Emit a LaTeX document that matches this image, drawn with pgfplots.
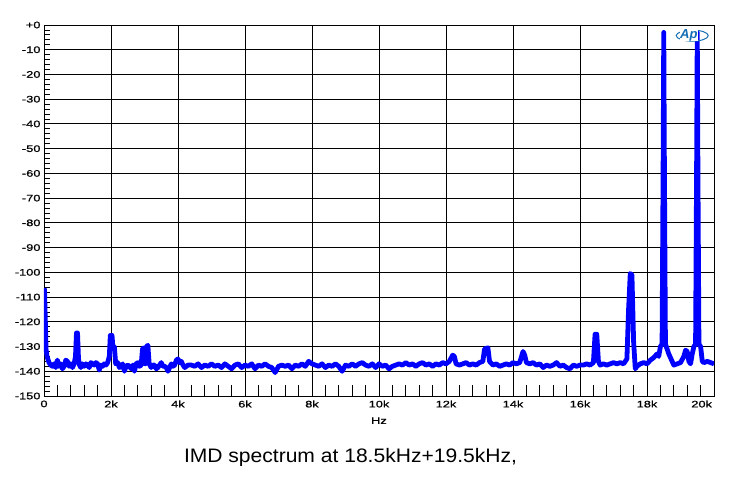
\documentclass[border=0pt]{standalone}
\usepackage{pgfplots}
\pgfplotsset{compat=1.18}
\usepackage{fontspec}
\setmainfont{Liberation Sans}
\newfontfamily\tickfont[FakeStretch=1.35,FakeBold=0.8]{Liberation Sans}
\newfontfamily\titlefont[FakeStretch=1.08]{Liberation Sans}
\definecolor{apblue}{RGB}{0,0,255}
\definecolor{logoblue}{RGB}{20,110,180}

\pgfplotstableread{
f db
0 -106.5
15 -107
40 -120
60 -131
90 -134
150 -136.5
200 -137.5
250 -138
300 -137
350 -138.5
400 -135.5
450 -138
500 -137
550 -139
600 -138
650 -135.5
700 -136
750 -138
800 -137
850 -138.5
900 -137
940 -134
970 -124.5
1000 -124.5
1030 -135
1060 -137.5
1100 -138.5
1150 -137
1200 -138
1250 -137
1300 -137.5
1350 -138.5
1400 -136.5
1450 -137
1500 -137.5
1550 -136.5
1600 -137
1650 -139.5
1700 -137.5
1750 -138
1800 -137
1850 -137.5
1900 -136.5
1950 -134
1980 -125.5
2030 -125.5
2060 -131
2100 -130
2140 -137
2200 -136.5
2250 -138.5
2300 -138
2350 -137
2400 -140
2450 -138
2500 -137.5
2550 -138
2600 -139
2650 -137.5
2700 -140
2750 -137
2800 -136.5
2850 -138
2900 -137.5
2940 -131
2980 -130.5
3020 -137
3060 -130
3100 -129.5
3140 -137
3200 -138.5
3250 -137.5
3300 -137.5
3350 -139
3400 -138.5
3450 -137.5
3500 -136.5
3550 -138
3600 -138
3650 -138.5
3700 -140
3750 -138.5
3800 -137
3850 -138
3900 -137.5
3950 -135.5
4000 -135
4050 -136.5
4100 -136
4150 -137.5
4200 -138.5
4300 -137.5
4400 -137.5
4500 -138
4600 -137
4700 -138.5
4800 -137.5
4900 -138
5000 -137
5100 -138
5200 -137.5
5300 -138.5
5400 -137
5500 -138
5600 -139
5700 -137.5
5800 -137
5900 -138.5
6000 -137.5
6100 -138
6200 -137
6300 -139
6400 -137.5
6500 -138
6600 -137
6700 -138
6800 -138.5
6900 -140.5
7000 -138
7100 -137.5
7200 -138
7300 -137.5
7400 -139
7500 -137.5
7600 -138
7700 -137
7800 -138
7900 -136
8000 -137
8100 -137.5
8200 -138
8300 -137
8400 -138.5
8500 -137.5
8600 -138
8700 -137
8800 -138
8900 -140
9000 -137.5
9100 -138
9200 -137
9300 -138
9400 -137
9500 -136.5
9600 -137.5
9700 -138
9800 -137
9900 -138.5
10000 -137
10100 -138
10200 -137.5
10300 -139
10400 -138
10500 -137.5
10600 -137
10700 -137.5
10800 -136.5
10900 -137.5
11000 -137
11100 -138
11200 -137
11300 -136.5
11400 -137.5
11500 -137
11600 -138
11700 -137
11800 -137.5
11900 -136.5
12000 -137
12100 -136
12200 -133.5
12250 -134
12300 -137
12400 -137.5
12500 -137
12600 -136.5
12700 -137.5
12800 -137
12900 -137.5
13000 -136.5
13100 -136
13150 -131
13250 -130.5
13300 -136
13400 -137.5
13500 -137
13600 -138
13700 -137.5
13800 -137
13900 -137.5
14000 -136.5
14100 -137
14200 -136.5
14300 -132
14350 -133.5
14400 -136.5
14500 -137
14600 -136.5
14700 -137.5
14800 -137
14900 -138.5
15000 -137.5
15100 -138
15200 -137.5
15300 -136.5
15400 -138
15500 -137.5
15600 -138.5
15700 -139
15800 -137.5
15900 -138
16000 -137.5
16100 -137.5
16200 -137
16300 -137.5
16400 -136.5
16450 -125
16500 -125
16550 -136
16600 -137.5
16700 -137
16800 -137.5
16900 -137
17000 -136.5
17100 -137
17200 -136.5
17300 -137
17400 -135
17450 -115
17500 -100.5
17550 -101
17600 -128
17650 -139
17700 -138
17800 -137
17900 -136.5
18000 -137
18100 -135.5
18200 -134.5
18300 -133
18350 -134
18400 -130
18450 -129
18480 -60
18500 -3
18520 -60
18550 -129
18600 -131
18650 -133
18700 -134.5
18800 -137.5
18900 -137
19000 -136.5
19100 -134
19150 -131.5
19200 -132
19250 -136
19300 -137
19350 -133
19400 -130
19450 -129
19480 -60
19500 -3
19520 -60
19550 -129
19600 -130
19650 -136
19700 -136.5
19800 -136
19900 -136.5
20000 -137
}\spectrum

\begin{document}
\begin{tikzpicture}
\begin{axis}[
  scale only axis,
  width=670pt, height=371pt,
  xmin=0, xmax=20000,
  ymin=-150, ymax=0,
  xtick={0,2000,...,20000},
  xticklabels={0,2k,4k,6k,8k,10k,12k,14k,16k,18k,\makebox[0pt][r]{20k\hspace{2pt}}},
  ytick={-150,-140,...,0},
  yticklabels={-150,-140,-130,-120,-110,-100,-90,-80,-70,-60,-50,-40,-30,-20,-10,+0},
  scaled x ticks=false,
  minor x tick num=4,
  minor y tick num=4,
  xtick pos=bottom, ytick pos=left,
  major tick length=0pt,
  minor x tick style={/pgfplots/minor tick length=11pt, black, line width=0.8pt},
  minor y tick style={/pgfplots/minor tick length=6pt, black, line width=0.8pt},
  grid=major,
  major grid style={black, line width=0.9pt},
  axis line style={black, line width=0.9pt},
  ticklabel style={font=\tickfont\fontsize{9.5}{10}\selectfont},
  xticklabel style={yshift=-1pt},
  xlabel={Hz},
  xlabel style={font=\tickfont\fontsize{9.5}{10}\selectfont, yshift=-3pt},
  clip=true,
]
\addplot[apblue, line width=4.8pt, line join=round] table[x=f, y=db] {\spectrum};
\draw[logoblue, line width=1pt] (axis cs:19350,-4.3) ellipse (16pt and 5.5pt);
\node[logoblue, fill=white, inner sep=0.5pt, font=\bfseries\itshape\fontsize{13}{13}\selectfont] at (axis cs:19250,-4) {Ap};
\end{axis}
\node[anchor=base, font=\titlefont\fontsize{19.5}{22}\selectfont] at ([xshift=-28.5pt,yshift=-66pt]current axis.south) {IMD spectrum at 18.5kHz+19.5kHz,};
\path ([xshift=-44pt,yshift=-85pt]current axis.south west) rectangle ([xshift=42pt,yshift=25pt]current axis.north east);
\end{tikzpicture}
\end{document}
